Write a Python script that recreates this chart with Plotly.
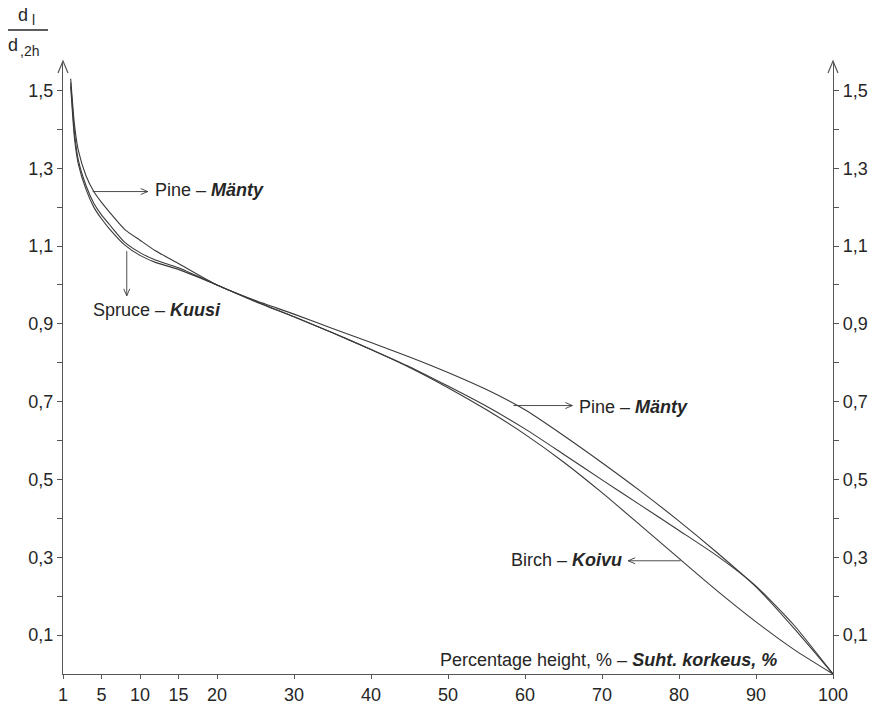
import math
import plotly.graph_objects as go

# ---------------- data ----------------
x_pct = [1, 1.5, 2, 3, 4, 5, 6, 8, 10, 12, 15, 20, 25, 30, 35, 40, 45, 50,
         55, 60, 65, 70, 75, 80, 85, 90, 95, 100]

pine = [1.53, 1.41, 1.345, 1.28, 1.24, 1.212, 1.188, 1.143, 1.115, 1.088, 1.055,
        1.0, 0.96, 0.925, 0.888, 0.852, 0.815, 0.775, 0.731, 0.679, 0.613, 0.543,
        0.470, 0.393, 0.311, 0.224, 0.116, 0.0]

spruce = [1.51, 1.375, 1.31, 1.245, 1.2, 1.17, 1.145, 1.103, 1.076, 1.058, 1.04,
          1.0, 0.957, 0.918, 0.877, 0.834, 0.790, 0.740, 0.688, 0.630, 0.565, 0.499,
          0.434, 0.369, 0.303, 0.226, 0.124, 0.0]

birch = [1.52, 1.39, 1.32, 1.255, 1.21, 1.18, 1.156, 1.11, 1.083, 1.064, 1.044,
         1.0, 0.958, 0.918, 0.877, 0.834, 0.788, 0.736, 0.679, 0.616, 0.545, 0.466,
         0.382, 0.297, 0.213, 0.134, 0.062, 0.0]

x_tickvals = [0, 5, 10, 15, 20, 30, 40, 50, 60, 70, 80, 90, 100]
x_ticktext = ["1", "5", "10", "15", "20", "30", "40", "50", "60", "70", "80", "90", "100"]
y_tickvals = [0.1, 0.3, 0.5, 0.7, 0.9, 1.1, 1.3, 1.5]
y_ticktext = ["0,1", "0,3", "0,5", "0,7", "0,9", "1,1", "1,3", "1,5"]
y_minorvals = [0.2, 0.4, 0.6, 0.8, 1.0, 1.2, 1.4]

# ---------------- style ----------------
FONT = "Liberation Sans, Arial, Helvetica, sans-serif"
INK = "#262626"
LINE = "#3a3a3a"
AX = "#555555"

W, H = 872, 704
ML, MR, MT, MB = 63, 39, 62, 30
PW, PH = W - ML - MR, H - MT - MB
XR = [0, 100]
YR = [0, 1.573]
PX_X = PW / (XR[1] - XR[0])   # pixels per x unit
PX_Y = PH / (YR[1] - YR[0])   # pixels per y unit

fig = go.Figure()
for name, ys in (("Pine", pine), ("Spruce", spruce), ("Birch", birch)):
    fig.add_trace(go.Scatter(x=x_pct, y=ys, mode="lines", name=name,
                             line=dict(color=LINE, width=1.1, shape="spline", smoothing=0.6),
                             showlegend=False, hoverinfo="skip"))
# invisible trace to carry the right-hand axis
fig.add_trace(go.Scatter(x=x_pct, y=pine, yaxis="y2", mode="lines", opacity=0,
                         showlegend=False, hoverinfo="skip"))

common_y = dict(range=YR, tickmode="array", tickvals=y_tickvals, ticktext=y_ticktext,
                showgrid=False, zeroline=False, showline=True, linecolor=AX, linewidth=1.2,
                ticks="outside", ticklen=5, tickwidth=1, tickcolor=AX, automargin=False,
                minor=dict(tickmode="array", tickvals=y_minorvals, ticks="outside",
                           ticklen=5, tickwidth=1, tickcolor=AX, showgrid=False),
                tickfont=dict(family=FONT, size=18, color=INK))

fig.update_layout(
    width=W, height=H,
    margin=dict(l=ML, r=MR, t=MT, b=MB, autoexpand=False),
    paper_bgcolor="white", plot_bgcolor="white",
    font=dict(family=FONT, size=18, color=INK),
    xaxis=dict(range=XR, tickmode="array", tickvals=x_tickvals, ticktext=x_ticktext,
               automargin=False, showgrid=False, zeroline=False, showline=True,
               linecolor=AX, linewidth=1.2, ticks="outside", ticklen=4, tickwidth=1,
               tickcolor=AX, tickfont=dict(family=FONT, size=18, color=INK)),
    yaxis=dict(side="left", **common_y),
    yaxis2=dict(side="right", overlaying="y", anchor="x", **common_y),
)

# top arrowheads of the two vertical axes (open chevrons)
def chevron(xp):
    w = 5 / PW
    h = 11 / PH
    return dict(type="path", xref="paper", yref="paper",
                path=f"M {xp - w},{1 - h} L {xp},{1 + 1/PH} L {xp + w},{1 - h}",
                line=dict(color=AX, width=1.2))

fig.add_shape(chevron(0))
fig.add_shape(chevron(1))

# y-axis label: d_l / d_0,2h as a fraction (built from plain text pieces)
def paper_x(px):
    return (px - ML) / PW

def paper_y(py):
    return (H - MB - py) / PH

def ptext(px, py, text, size, anchor="center"):
    fig.add_annotation(xref="paper", yref="paper", x=paper_x(px), y=paper_y(py),
                       xanchor=anchor, yanchor="middle", text=text, showarrow=False,
                       font=dict(family=FONT, size=size, color=INK))

ptext(23, 15, "d", 18)
ptext(30, 20, "l", 14, "left")
ptext(13, 45, "d", 18)
ptext(18, 51, ",2h", 14, "left")
fig.add_shape(type="line", xref="paper", yref="paper", x0=paper_x(8), x1=paper_x(48),
              y0=paper_y(30), y1=paper_y(30), line=dict(color=INK, width=1.3))

LBL = dict(family=FONT, size=18, color=INK)

def label(x, y, text, anchor):
    fig.add_annotation(x=x, y=y, text=text, showarrow=False, xanchor=anchor,
                       yanchor="middle", font=LBL)

def arrow(x_head, y_head, x_tail, y_tail, L=7, Wd=3):
    # shaft
    fig.add_shape(type="line", xref="x", yref="y", x0=x_tail, y0=y_tail,
                  x1=x_head, y1=y_head, line=dict(color=LINE, width=0.9))
    # open chevron head (computed in pixel space)
    dx = (x_head - x_tail) * PX_X
    dy = (y_head - y_tail) * PX_Y
    n = math.hypot(dx, dy)
    ux, uy = dx / n, dy / n
    px_, py_ = -uy, ux
    p1 = (x_head + (-L * ux + Wd * px_) / PX_X, y_head + (-L * uy + Wd * py_) / PX_Y)
    p2 = (x_head + (-L * ux - Wd * px_) / PX_X, y_head + (-L * uy - Wd * py_) / PX_Y)
    fig.add_shape(type="path", xref="x", yref="y",
                  path=f"M {p1[0]},{p1[1]} L {x_head},{y_head} L {p2[0]},{p2[1]}",
                  line=dict(color=LINE, width=0.9))

label(11.66, 1.244, "Pine – <b><i>Mänty</i></b>", "left")
arrow(11.0, 1.24, 3.86, 1.24)

label(12.18, 0.936, "Spruce – <b><i>Kuusi</i></b>", "center")
arrow(8.28, 0.972, 8.28, 1.087)

label(66.8, 0.686, "Pine – <b><i>Mänty</i></b>", "left")
arrow(66.15, 0.69, 58.5, 0.69)

label(72.8, 0.293, "Birch – <b><i>Koivu</i></b>", "right")
arrow(73.4, 0.291, 80.2, 0.291)

label(48.7, 0.036, "Percentage height, % – <b><i>Suht. korkeus, %</i></b>", "left")

fig.write_html("out.html",
               config={"displayModeBar": False, "staticPlot": True},
               post_script="document.body.style.margin='0';"
                           "document.body.style.overflow='hidden';")
